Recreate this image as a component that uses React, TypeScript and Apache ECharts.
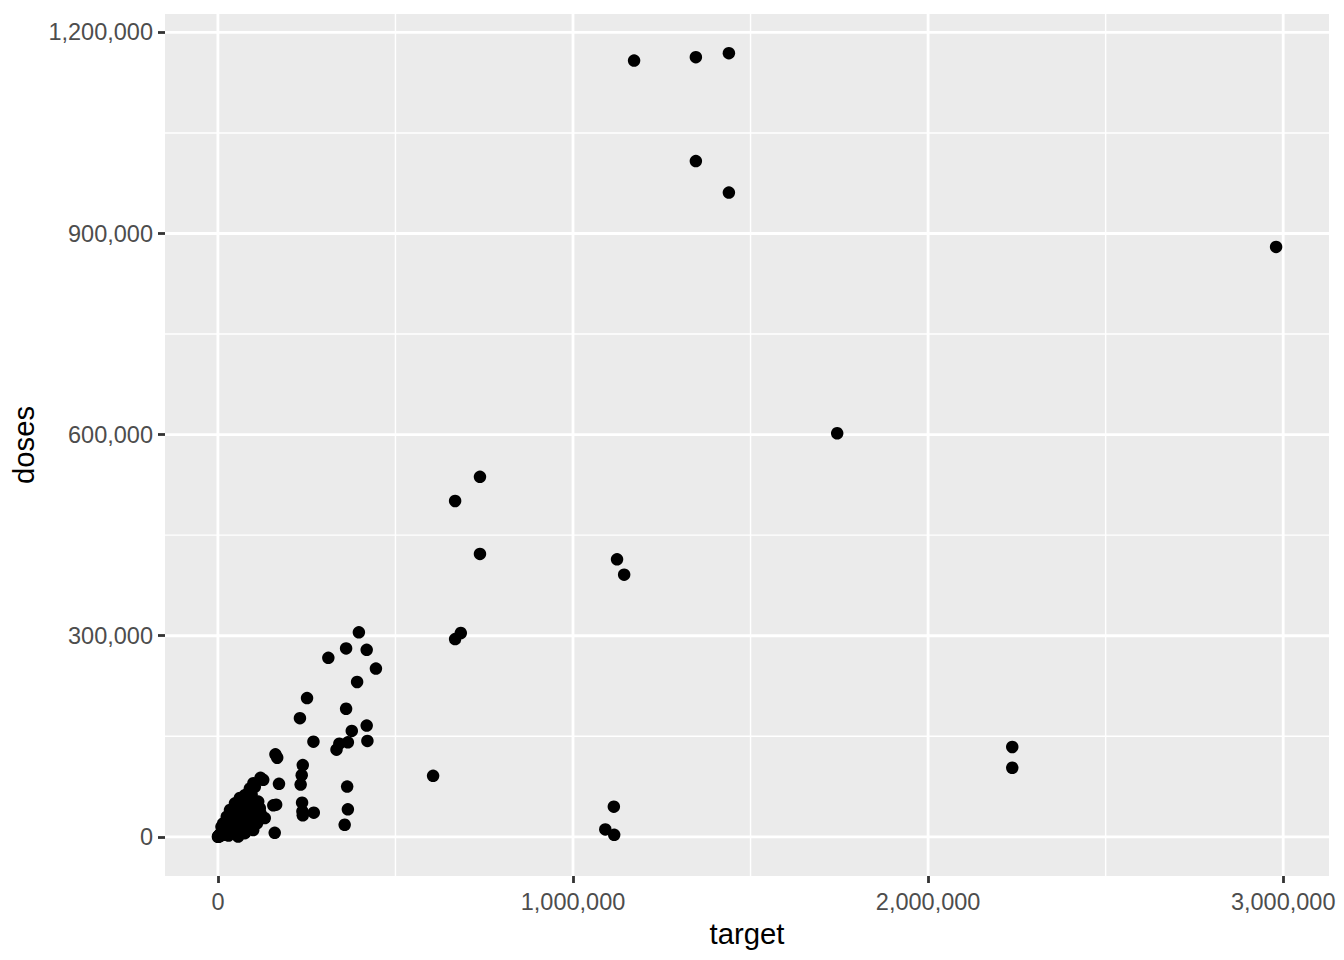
import React, { useEffect, useRef } from "react";
import * as echarts from "echarts";

// Scatter data: target (x) and doses (y)
const target = [
  // upper / outlying points
  1172000, 1346000, 1439000, 1346000, 1439000, 2980000, 1744000, 738000, 668000, 738000,
  1124000, 1144000, 684000, 668000, 2237000, 2237000, 606000, 1115000, 1091000, 1116000,
  // mid cluster
  397000, 361000, 419000, 311000, 445000, 392000, 251000, 231000, 361000, 377000,
  419000, 421000, 366000, 342000, 334000, 269000, 239000, 236000, 233000, 364000,
  237000, 238000, 239000, 270000, 366000, 357000, 162000, 167000, 172000, 156000,
  164000, 160000,
  // dense cluster near origin
  0, 1000, 2000, 3000, 5000, 4000, 6000, 8000, 10000, 12000,
  15000, 18000, 20000, 22000, 25000, 28000, 30000, 32000, 35000, 38000,
  40000, 42000, 45000, 48000, 50000, 55000, 57000, 60000, 62000, 65000,
  70000, 72000, 76000, 78000, 80000, 85000, 90000, 95000, 99500, 99500,
  104000, 110000, 113500, 113500, 118000, 127600, 132000, 76000, 57000, 30000,
  85000, 104000, 19700, 38600,
  10000, 15000, 25000, 34000, 48000, 62000, 76000, 90000, 100000, 120000,
  70000, 80000, 90000, 100000, 110000, 120000, 66000, 52000, 44000, 28000,
];

const doses = [
  // upper / outlying points
  1158000, 1163000, 1169000, 1008000, 961000, 880000, 602000, 537000, 501000, 422000,
  414000, 391000, 304000, 295000, 134000, 103000, 91000, 45000, 11000, 3000,
  // mid cluster
  305000, 281000, 279000, 267000, 251000, 231000, 207000, 177000, 191000, 158000,
  166000, 143000, 141000, 139000, 130000, 142000, 107000, 92000, 78000, 75000,
  51000, 38000, 32000, 36000, 41000, 18000, 123000, 118000, 79000, 47000,
  48000, 6000,
  // dense cluster near origin
  0, 500, 1500, 800, 3000, 2000, 1000, 5000, 4000, 8000,
  6000, 10000, 15000, 3000, 12000, 20000, 18000, 25000, 8000, 30000,
  22000, 15000, 35000, 40000, 28000, 32000, 40000, 20000, 12000, 45000,
  38000, 30000, 52000, 50000, 42000, 25000, 55000, 62600, 75000, 10000,
  35000, 45000, 52600, 26800, 42800, 85000, 28000, 5500, 400, 2000,
  64600, 74600, 15400, 30000,
  15000, 20000, 30000, 40000, 50000, 58000, 62000, 72000, 80000, 88000,
  8000, 15000, 20000, 30000, 20000, 35000, 26000, 18000, 10000, 9000,
];

const xMajorTicks = [0, 1000000, 2000000, 3000000];
const xMinorTicks = [500000, 1500000, 2500000];
const yMajorTicks = [0, 300000, 600000, 900000, 1200000];
const yMinorTicks = [150000, 450000, 750000, 1050000];

const FONT = "'Liberation Sans', Arial, Helvetica, sans-serif";

export default function App() {
  const ref = useRef<HTMLDivElement>(null);

  useEffect(() => {
    if (!ref.current) return;
    const chart = echarts.init(ref.current, null, { renderer: "svg" });

    const xLo = Math.min(...target);
    const xHi = Math.max(...target);
    const yLo = Math.min(...doses);
    const yHi = Math.max(...doses);
    const ex = (xHi - xLo) * 0.05;
    const ey = (yHi - yLo) * 0.05;
    const xMin = xLo - ex;
    const xMax = xHi + ex;
    const yMin = yLo - ey;
    const yMax = yHi + ey;

    const points = target.map((t, i) => [t, doses[i]]);
    const xGridData = [
      ...xMinorTicks.map((v) => [v, 0, 0]),
      ...xMajorTicks.map((v) => [v, 0, 1]),
    ];
    const yGridData = [
      ...yMinorTicks.map((v) => [0, v, 0]),
      ...yMajorTicks.map((v) => [0, v, 1]),
    ];

    const fmt = (v: number) => Number(v).toLocaleString("en-US");

    const option: any = {
      animation: false,
      grid: {
        left: 165,
        right: 15,
        top: 14,
        bottom: 84,
        show: true,
        backgroundColor: "#EBEBEB",
        borderWidth: 0,
        containLabel: false,
      },
      xAxis: {
        type: "value",
        min: xMin,
        max: xMax,
        name: "target",
        nameLocation: "middle",
        nameGap: 33,
        nameTextStyle: { color: "#000000", fontSize: 29.3, fontFamily: FONT },
        axisLine: { show: false, onZero: false },
        splitLine: { show: false },
        axisTick: {
          show: true,
          customValues: xMajorTicks,
          length: 7,
          lineStyle: { color: "#333333", width: 2.8 },
        },
        axisLabel: {
          show: true,
          customValues: xMajorTicks,
          formatter: fmt,
          color: "#4D4D4D",
          fontSize: 23.5,
          fontFamily: FONT,
          margin: 14,
        },
      },
      yAxis: {
        type: "value",
        min: yMin,
        max: yMax,
        name: "doses",
        nameLocation: "middle",
        nameGap: 122,
        nameTextStyle: { color: "#000000", fontSize: 29.3, fontFamily: FONT },
        axisLine: { show: false, onZero: false },
        splitLine: { show: false },
        axisTick: {
          show: true,
          customValues: yMajorTicks,
          length: 7,
          lineStyle: { color: "#333333", width: 2.8 },
        },
        axisLabel: {
          show: true,
          customValues: yMajorTicks,
          formatter: fmt,
          color: "#4D4D4D",
          fontSize: 23.5,
          fontFamily: FONT,
          margin: 12,
        },
      },
      series: [
        {
          type: "custom",
          z: 1,
          silent: true,
          encode: { x: 0, y: 1 },
          data: xGridData,
          renderItem: (params: any, api: any) => {
            const cs = params.coordSys;
            const px = api.coord([api.value(0), 0])[0];
            const major = api.value(2) === 1;
            return {
              type: "line",
              shape: { x1: px, y1: cs.y, x2: px, y2: cs.y + cs.height },
              style: { stroke: "#FFFFFF", lineWidth: major ? 2.84 : 1.42 },
            };
          },
        },
        {
          type: "custom",
          z: 1,
          silent: true,
          encode: { x: 0, y: 1 },
          data: yGridData,
          renderItem: (params: any, api: any) => {
            const cs = params.coordSys;
            const py = api.coord([0, api.value(1)])[1];
            const major = api.value(2) === 1;
            return {
              type: "line",
              shape: { x1: cs.x, y1: py, x2: cs.x + cs.width, y2: py },
              style: { stroke: "#FFFFFF", lineWidth: major ? 2.84 : 1.42 },
            };
          },
        },
        {
          type: "scatter",
          z: 3,
          data: points,
          symbol: "circle",
          symbolSize: 12.5,
          itemStyle: { color: "#000000", opacity: 1 },
          emphasis: { disabled: true },
        },
      ],
    };

    chart.setOption(option);
    return () => chart.dispose();
  }, []);

  return (
    <div
      ref={ref}
      style={{ position: "fixed", left: 0, top: 0, width: 1344, height: 960, background: "#FFFFFF" }}
    />
  );
}
